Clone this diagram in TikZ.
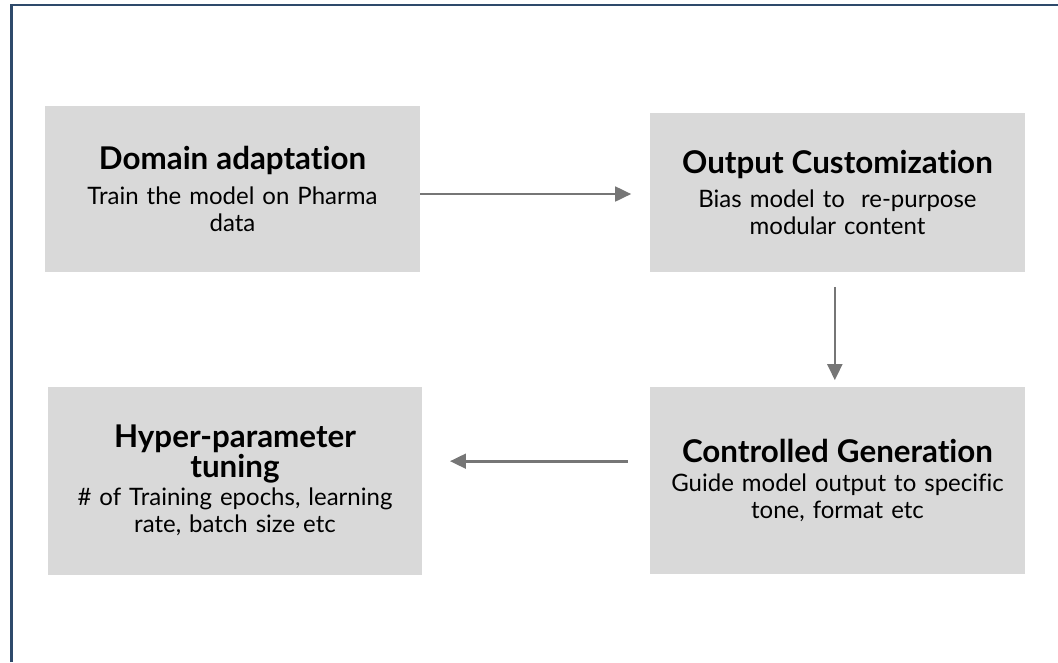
\documentclass[tikz,border=0pt]{standalone}
\usepackage{fontspec}
\setmainfont{Lato}[Ligatures=NoCommon]
\usetikzlibrary{arrows.meta,positioning}

\definecolor{framenavy}{RGB}{46,74,107}
\definecolor{boxgray}{RGB}{217,217,217}
\definecolor{arrowgray}{RGB}{118,118,118}

% title, gap to the body text, body
\newcommand{\steptitle}[2]{{\fontsize{23.5}{22}\selectfont\lineskiplimit=-20pt\bfseries #1\par}\vspace{#2}}
\newcommand{\stepbody}[1]{{\fontsize{18}{20.5}\selectfont #1}}

\tikzset{
  stepbox/.style={fill=boxgray, inner sep=0pt, minimum width=281pt,
    text width=272pt, align=center, font=\fontsize{18}{20.5}\selectfont},
  flowarrow/.style={draw=arrowgray, line width=2pt,
    -{Triangle[length=12pt,width=11pt]}},
}

\begin{document}
\begin{tikzpicture}[x=0.75pt,y=-0.75pt]
  \useasboundingbox (0,0) rectangle (1058,662);
  % outer frame, top and left only
  \draw[framenavy, line width=2pt] (11.5,662) -- (11.5,5) -- (1058,5);

  \node[stepbox, minimum height=124.5pt] (domain) at (232.5,189)
    {\steptitle{Domain adaptation}{6pt}\stepbody{Train the model on Pharma\\data}};
  \node[stepbox, minimum height=119pt] (custom) at (837.5,192.5)
    {\steptitle{Output Customization}{4.5pt}\stepbody{Bias model to\ \ re-purpose\\modular content}};
  \node[stepbox, minimum width=280pt, minimum height=141pt] (hyper) at (235,480.5)
    {\steptitle{Hyper-parameter\\tuning}{0.5pt}\stepbody{\# of Training epochs, learning\\rate, batch size etc}\par\vspace*{10.5pt}};
  \node[stepbox, minimum height=140pt] (control) at (837.5,480.5)
    {\steptitle{Controlled Generation}{1pt}\stepbody{Guide model output to specific\\tone, format etc}};

  \draw[flowarrow] ([yshift=-3.75pt]domain.east) -- ([xshift=-14pt,yshift=-3.75pt]domain.east -| custom.west);
  \draw[flowarrow] ([xshift=-2pt,yshift=-11pt]custom.south) -- ([xshift=-2pt,yshift=5pt]custom.south |- control.north);
  \draw[flowarrow] ([xshift=-16.5pt,yshift=14.5pt]control.west) -- ([xshift=21pt,yshift=14.5pt]control.west -| hyper.east);
\end{tikzpicture}
\end{document}
